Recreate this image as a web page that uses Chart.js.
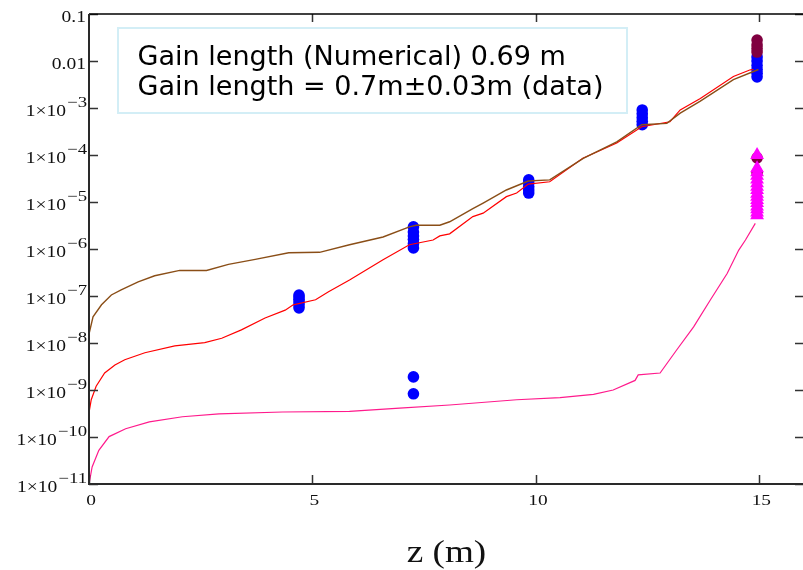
<!DOCTYPE html>
<html>
<head>
<meta charset="utf-8">
<title>Gain vs z</title>
<script src="https://cdn.jsdelivr.net/npm/chart.js@4.4.1/dist/chart.umd.min.js"></script>
<style>
	html, body { margin: 0; padding: 0; background: #fff; overflow: hidden; }
	#wrap { position: relative; width: 803px; height: 570px; overflow: hidden; }
	canvas { display: block; }
</style>
</head>
<body>
<div id="wrap"><canvas id="gain-chart" width="812" height="570"></canvas></div>
<script>
// Simulated gain curves (z in m, power fraction)
const brownZ = [0, 0.09, 0.28, 0.5, 0.72, 1.1, 1.47, 2.03, 2.63, 3.12, 3.72, 4.47, 5.16, 5.83, 6.58, 7.17, 7.32, 7.85, 8.07, 8.59, 8.82, 9.34, 9.83, 10.31, 11.06, 11.81, 12.37, 12.93, 13.23, 13.68, 14.42, 14.98];
const brownGain = [1.55e-8, 3.6e-8, 6.5e-8, 1.05e-7, 1.35e-7, 2.0e-7, 2.7e-7, 3.5e-7, 3.5e-7, 4.7e-7, 6.0e-7, 8.3e-7, 8.5e-7, 1.23e-6, 1.8e-6, 2.95e-6, 3.2e-6, 3.2e-6, 3.8e-6, 7.2e-6, 9.5e-6, 1.8e-5, 2.8e-5, 2.95e-5, 8.5e-5, 1.9e-4, 4.4e-4, 4.7e-4, 7.8e-4, 1.4e-3, 4.0e-3, 6.6e-3];

const redZ = [0, 0.05, 0.16, 0.35, 0.58, 0.8, 1.25, 1.92, 2.59, 2.97, 3.41, 3.94, 4.39, 4.57, 5.07, 5.36, 5.83, 6.58, 7.17, 7.7, 7.85, 8.07, 8.59, 8.82, 9.34, 9.57, 9.83, 10.31, 11.05, 11.81, 12.37, 13.0, 13.23, 13.68, 14.42, 14.8, 14.87];
const redGain = [3.3e-10, 6.2e-10, 1.2e-9, 2.3e-9, 3.4e-9, 4.4e-9, 6.2e-9, 8.7e-9, 1.02e-8, 1.26e-8, 1.9e-8, 3.4e-8, 5.0e-8, 6.5e-8, 8.3e-8, 1.23e-7, 2.2e-7, 5.9e-7, 1.23e-6, 1.55e-6, 1.9e-6, 2.1e-6, 4.9e-6, 5.8e-6, 1.3e-5, 1.55e-5, 2.4e-5, 2.7e-5, 8.5e-5, 1.8e-4, 4.0e-4, 5.1e-4, 9.1e-4, 1.6e-3, 4.7e-3, 6.5e-3, 6.6e-3];

const pinkZ = [0, 0.07, 0.22, 0.45, 0.82, 1.35, 2.09, 2.91, 4.33, 5.83, 6.95, 8.07, 9.57, 10.54, 11.29, 11.73, 12.22, 12.29, 12.78, 13.15, 13.53, 13.9, 14.28, 14.54, 14.69, 14.91];
const pinkGain = [1.0e-11, 2.3e-11, 5.2e-11, 1.02e-10, 1.5e-10, 2.1e-10, 2.7e-10, 3.1e-10, 3.4e-10, 3.5e-10, 4.1e-10, 4.8e-10, 6.2e-10, 6.9e-10, 8.1e-10, 1.0e-9, 1.6e-9, 2.1e-9, 2.3e-9, 7.1e-9, 2.2e-8, 8.1e-8, 3.0e-7, 9.5e-7, 1.55e-6, 3.5e-6];

// Measured points
const blueZ = [4.7, 4.7, 4.7, 4.7, 4.7, 4.7, 7.26, 7.26, 7.26, 7.26, 7.26, 7.26, 7.26, 7.26, 9.84, 9.84, 9.84, 9.84, 9.84, 12.38, 12.38, 12.38, 12.38, 12.38, 14.95, 14.95, 14.95, 14.95, 14.95, 14.95];
const blueGain = [5.6e-8, 6.5e-8, 7.5e-8, 8.5e-8, 9.5e-8, 1.05e-7, 1.05e-6, 1.3e-6, 1.6e-6, 1.9e-6, 2.3e-6, 2.95e-6, 1.9e-9, 8.3e-10, 1.55e-5, 1.8e-5, 2.1e-5, 2.5e-5, 2.95e-5, 4.4e-4, 5.2e-4, 6.2e-4, 7.5e-4, 9.1e-4, 4.6e-3, 5.5e-3, 6.6e-3, 8.0e-3, 1.0e-2, 1.22e-2];

const maroonZ = [14.95, 14.95, 14.95, 14.95, 14.95, 14.95];
const maroonGain = [1.55e-2, 1.85e-2, 2.2e-2, 2.8e-2, 4.2e-5, 8.7e-5];

const triZ = [14.95, 14.95, 14.95, 14.95, 14.95, 14.95, 14.95, 14.95, 14.95, 14.95, 14.95, 14.95, 14.95, 14.95, 14.95, 14.95];
const triGain = [5.2e-6, 6.0e-6, 7.0e-6, 8.0e-6, 9.5e-6, 1.1e-5, 1.3e-5, 1.5e-5, 1.8e-5, 2.1e-5, 2.5e-5, 3.0e-5, 3.6e-5, 4.3e-5, 5.2e-5, 1.0e-4];

// Axis ticks and labels
const xTickValues = [0, 5, 10, 15];
const xTickText = ["0", "5", "10", "15"];
const yTickValues = [0.1, 0.01, 1e-3, 1e-4, 1e-5, 1e-6, 1e-7, 1e-8, 1e-9, 1e-10, 1e-11];
const yTickText = ["0.1", "0.01", "1×10", "1×10", "1×10", "1×10", "1×10", "1×10", "1×10", "1×10", "1×10"];
const yTickSup = ["", "", "−3", "−4", "−5", "−6", "−7", "−8", "−9", "−10", "−11"];
const xTitle = "z (m)";
const noteLines = ["Gain length (Numerical) 0.69 m", "Gain length = 0.7m±0.03m (data)"];

const toPoints = (xs, ys) => xs.map((v, i) => ({ x: v, y: ys[i] }));

// Draws text stretched horizontally by sx, anchored at px
function wideText(ctx, text, px, py, align, sx) {
	const w = ctx.measureText(text).width * sx;
	let left = px;
	if (align === "right") left = px - w;
	else if (align === "center") left = px - w / 2;
	ctx.save();
	ctx.translate(left, py);
	ctx.scale(sx, 1);
	ctx.textAlign = "left";
	ctx.textBaseline = "alphabetic";
	ctx.fillText(text, 0, 0);
	ctx.restore();
	return w;
}

// Frame, inward ticks, serif labels and the note box
const framePlugin = {
	id: "frame",
	afterDatasetsDraw(chart) {
		const { ctx, chartArea: a, scales } = chart;
		const xs = scales.x;
		const ys = scales.y;
		ctx.save();

		// ticks
		ctx.strokeStyle = "#333";
		ctx.lineWidth = 1.5;
		ctx.beginPath();
		yTickValues.forEach((v) => {
			const py = Math.round(ys.getPixelForValue(v)) + 0.5;
			ctx.moveTo(a.left, py);
			ctx.lineTo(a.left + 9, py);
			ctx.moveTo(a.right - 9, py);
			ctx.lineTo(a.right, py);
		});
		xTickValues.forEach((v) => {
			const px = Math.round(xs.getPixelForValue(v)) + 0.5;
			ctx.moveTo(px, a.bottom);
			ctx.lineTo(px, a.bottom - 9);
			if (v > 0) {
				ctx.moveTo(px, a.top);
				ctx.lineTo(px, a.top + 8);
			}
		});
		ctx.stroke();

		// axis lines
		ctx.strokeStyle = "#000";
		ctx.lineWidth = 1.5;
		ctx.beginPath();
		ctx.moveTo(a.left, a.top);
		ctx.lineTo(a.right, a.top);
		ctx.stroke();
		ctx.lineWidth = 2;
		ctx.beginPath();
		ctx.moveTo(a.left, a.top);
		ctx.lineTo(a.left, a.bottom);
		ctx.lineTo(a.right, a.bottom);
		ctx.lineTo(a.right, a.top);
		ctx.strokeStyle = "#2a2a2a";
		ctx.stroke();

		// y labels
		ctx.fillStyle = "#111";
		yTickValues.forEach((v, i) => {
			const py = ys.getPixelForValue(v);
			if (yTickSup[i]) {
				ctx.font = '15px "Liberation Serif"';
				const sw = wideText(ctx, yTickSup[i], a.left - 2, py - 1, "right", 1.25);
				ctx.font = '16px "Liberation Serif"';
				wideText(ctx, yTickText[i], a.left - 3 - sw, py + 7.5, "right", 1.22);
			} else {
				ctx.font = '16px "Liberation Serif"';
				wideText(ctx, yTickText[i], a.left - 3, py + 7.7, "right", 1.22);
			}
		});

		// x labels
		ctx.font = '15.5px "Liberation Serif"';
		xTickValues.forEach((v, i) => {
			wideText(ctx, xTickText[i], xs.getPixelForValue(v) + 2, a.bottom + 21, "center", 1.25);
		});

		// x title
		ctx.font = '31px "Liberation Serif"';
		wideText(ctx, xTitle, (a.left + a.right) / 2, 562, "center", 1.2);

		// note box
		ctx.fillStyle = "#fff";
		ctx.fillRect(118, 28, 509, 85);
		ctx.strokeStyle = "#d3eef6";
		ctx.lineWidth = 2;
		ctx.strokeRect(118, 28, 509, 85);
		ctx.fillStyle = "#000";
		ctx.font = '26px "DejaVu Sans"';
		wideText(ctx, noteLines[0], 137.5, 65, "left", 1.04);
		wideText(ctx, noteLines[1], 137.5, 94.5, "left", 1.04);

		ctx.restore();
	},
};

const lineSet = (xs, ys, color, width) => ({
	data: toPoints(xs, ys),
	showLine: true,
	borderColor: color,
	borderWidth: width,
	pointRadius: 0,
	fill: false,
	tension: 0,
});

const dotSet = (xs, ys, color, style, radius) => ({
	data: toPoints(xs, ys),
	showLine: false,
	pointStyle: style,
	pointRadius: radius,
	pointBackgroundColor: color,
	pointBorderColor: color,
	pointBorderWidth: 0,
});

new Chart(document.getElementById("gain-chart"), {
	type: "scatter",
	data: {
		// first dataset is painted last (on top)
		datasets: [
			lineSet(brownZ, brownGain, "#8a4e17", 1.4),
			lineSet(redZ, redGain, "#ff0000", 1.2),
			lineSet(pinkZ, pinkGain, "#ff1a8c", 1.2),
			dotSet(triZ, triGain, "#ff00ff", "triangle", 8),
			dotSet(maroonZ, maroonGain, "#800040", "circle", 5.8),
			dotSet(blueZ, blueGain, "#0000ff", "circle", 5.8),
		],
	},
	options: {
		responsive: false,
		animation: false,
		devicePixelRatio: 1,
		layout: { padding: { left: 89, top: 14, right: 8, bottom: 86 } },
		plugins: { legend: { display: false }, tooltip: { enabled: false } },
		scales: {
			x: { type: "linear", min: 0, max: 16, display: false },
			y: { type: "logarithmic", min: 1e-11, max: 0.1, display: false },
		},
	},
	plugins: [framePlugin],
});
</script>
</body>
</html>
